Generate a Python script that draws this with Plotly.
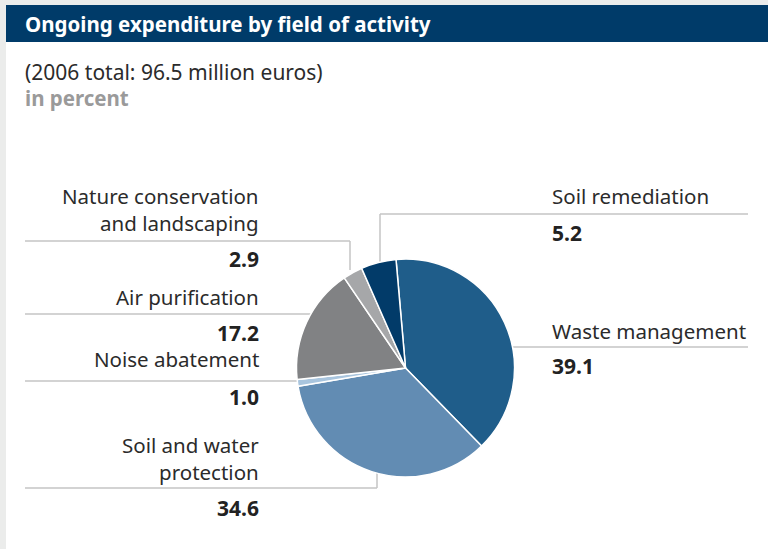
import math
import plotly.graph_objects as go

# ---- data ----
categories = ["Waste management", "Soil and water protection", "Noise abatement",
              "Air purification", "Nature conservation and landscaping", "Soil remediation"]
shares = [39.1, 34.6, 1.0, 17.2, 2.9, 5.2]
label_texts = ["Waste management", "Soil and water<br>protection", "Noise abatement",
               "Air purification", "Nature conservation<br>and landscaping", "Soil remediation"]
slice_colors = ["#1f5d8a", "#628cb3", "#a9c5de", "#818284", "#a6a7a9", "#023b69"]

title_text = "Ongoing expenditure by field of activity"
subtitle_text = "(2006 total: 96.5 million euros)"
unit_text = "in percent"

# ---- layout (pixel units) ----
W, H = 768, 549
CX, CY, R = 405.5, 368, 109
FONT = "Noto Sans"


def px(x):
    return x / W


def py(y):
    return 1 - y / H


fig = go.Figure()
fig.add_trace(go.Pie(
    labels=categories, values=shares, sort=False, direction="clockwise", rotation=-5,
    marker=dict(colors=slice_colors, line=dict(color="white", width=1.5)),
    textinfo="none", hoverinfo="label+value", showlegend=False,
    domain=dict(x=[px(CX - R), px(CX + R)], y=[py(CY + R), py(CY - R)]),
))

shapes = [
    # grey background frame and white panel
    dict(type="rect", xref="paper", yref="paper", x0=0, x1=1, y0=0, y1=1,
         fillcolor="#ebeceb", line=dict(width=0), layer="below"),
    dict(type="rect", xref="paper", yref="paper", x0=px(6), x1=1, y0=0, y1=py(5),
         fillcolor="white", line=dict(width=0), layer="below"),
    dict(type="rect", xref="paper", yref="paper", x0=px(6), x1=1, y0=py(42), y1=py(5),
         fillcolor="#003b69", line=dict(width=0), layer="below"),
]


def edge_x(y, side):
    d = math.sqrt(max(R * R - (y - CY) ** 2, 0))
    return CX - d if side < 0 else CX + d


leaders = [
    [(25, 241), (350, 241), (350, 270)],
    [(25, 314), (edge_x(314, -1), 314)],
    [(25, 381), (edge_x(381, -1), 381)],
    [(25, 488), (377, 488), (377, 473)],
    [(748, 214), (380, 214), (380, 263)],
    [(edge_x(347, 1), 347), (748, 347)],
]
for pts in leaders:
    for (x0, y0), (x1, y1) in zip(pts[:-1], pts[1:]):
        shapes.append(dict(type="line", xref="paper", yref="paper",
                           x0=px(x0), y0=py(y0), x1=px(x1), y1=py(y1),
                           line=dict(color="#c4c4c4", width=1.5), layer="below"))

# label placement per category: (x, anchor, name centre y, value centre y)
label_pos = [
    (550, "left", 331, 366),
    (261, "right", 458.5, 508),
    (261, "right", 359, 397),
    (261, "right", 297, 333),
    (261, "right", 209.5, 259),
    (550, "left", 196, 233),
]

annotations = []
for text, val, (x, anc, yn, yv) in zip(label_texts, shares, label_pos):
    annotations.append(dict(x=px(x), y=py(yn), xref="paper", yref="paper", text=text,
                            xanchor=anc, yanchor="middle", align=anc, showarrow=False,
                            font=dict(family=FONT, size=20.5, color="#2b2b2b")))
    annotations.append(dict(x=px(x), y=py(yv), xref="paper", yref="paper",
                            text=f"<b>{val:.1f}</b>",
                            xanchor=anc, yanchor="middle", align=anc, showarrow=False,
                            font=dict(family=FONT, size=21, color="#222222")))

annotations += [
    dict(x=px(23), y=py(24), xref="paper", yref="paper", text=f"<b>{title_text}</b>",
         xanchor="left", yanchor="middle", showarrow=False,
         font=dict(family=FONT, size=20.5, color="white")),
    dict(x=px(23), y=py(72), xref="paper", yref="paper", text=subtitle_text,
         xanchor="left", yanchor="middle", showarrow=False,
         font=dict(family=FONT, size=21, color="#2b2b2b")),
    dict(x=px(23), y=py(98), xref="paper", yref="paper", text=f"<b>{unit_text}</b>",
         xanchor="left", yanchor="middle", showarrow=False,
         font=dict(family=FONT, size=20.5, color="#9a9a9a")),
]

fig.update_layout(
    width=W, height=H, margin=dict(l=0, r=0, t=0, b=0),
    paper_bgcolor="white", plot_bgcolor="white",
    shapes=shapes, annotations=annotations,
)

fig.write_html("out.html", config={"displayModeBar": False},
               post_script="document.body.style.margin='0';document.body.style.overflow='hidden';")
